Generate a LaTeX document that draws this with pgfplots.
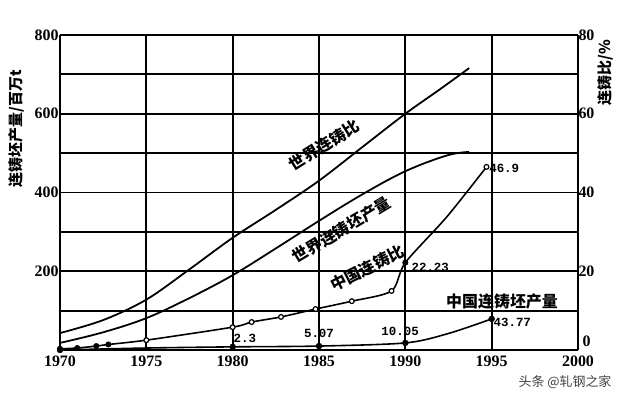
\documentclass[border=0pt]{standalone}
\usepackage{fontspec}
\usepackage{pgfplots}
\pgfplotsset{compat=1.18}
\setmainfont{Liberation Serif}
\newfontfamily\cjk{Noto Sans CJK SC}
\newfontfamily\monofont{Liberation Mono}
\newcommand{\cj}{\cjk\bfseries\fontsize{16}{16}\selectfont}
\newcommand{\lab}{\monofont\bfseries\fontsize{12.5}{12.5}\selectfont}
\begin{document}
\begin{tikzpicture}
\path[use as bounding box] (-60bp,-54bp) rectangle (580bp,350bp);
\begin{axis}[
  at={(0,0)}, anchor=south west, scale only axis,
  width=518bp, height=315bp,
  xmin=1970, xmax=2000, ymin=0, ymax=800,
  axis y line*=left, axis x line*=bottom,
  xtick={1970,1975,...,2000},
  ytick={200,400,600,800},
  minor ytick={100,300,500,700},
  grid=both,
  grid style={black, line width=1.9pt},
  major grid style={black, line width=1.9pt},
  minor grid style={black, line width=1.9pt},
  axis line style={black, line width=2.4pt, -},
  tick style={draw=none},
  /pgf/number format/assume math mode=true,
  xticklabel style={/pgf/number format/1000 sep={}, font=\bfseries\fontsize{16}{16}\selectfont, yshift=-2bp},
  yticklabel style={font=\bfseries\fontsize{16}{16}\selectfont, xshift=2bp},
  clip=false,
]
% World continuous casting output (Mt)
\addplot[black, line width=1.8pt, smooth, tension=0.6] coordinates {
  (1970,18) (1972.5,45) (1975,81) (1977.5,132) (1980,190) (1982.5,258)
  (1985,328) (1987.5,395) (1990,454) (1992.4,494) (1993.7,503)};
% China continuous casting output (Mt)
\addplot[black, line width=1.6pt, smooth, tension=0.5] coordinates {
  (1970,0) (1975,5) (1980,8) (1985,10) (1990,18) (1992.5,42) (1995,79)};
\addplot[black, only marks, mark=*, mark size=3pt] coordinates {
  (1970,0) (1980,8) (1985,10) (1990,18) (1995,79)};
\addplot[black, only marks, mark=*, mark size=1.8pt] coordinates {(1975,5)};
% curve labels
\node[rotate=32] at (axis cs:1985.3,520) {\cj 世界连铸比};
\node[rotate=31] at (axis cs:1986.3,305) {\cj 世界连铸坯产量};
\node[rotate=27] at (axis cs:1987.8,208) {\cj 中国连铸比};
\node at (axis cs:1995.6,122) {\cj 中国连铸坯产量};
% value labels
\node[anchor=west, inner sep=0pt] at (axis cs:1994.85,462) {\lab 46.9};
\node[anchor=west, inner sep=0pt] at (axis cs:1990.35,211) {\lab 22.23};
\node[anchor=west, inner sep=0pt] at (axis cs:1980.05,30) {\lab 2.3};
\node[inner sep=0pt] at (axis cs:1985.0,43) {\lab 5.07};
\node[inner sep=0pt] at (axis cs:1989.7,48) {\lab 10.05};
\node[anchor=west, inner sep=0pt] at (axis cs:1995.1,69) {\lab 43.77};
% left y label
\node[rotate=90, inner sep=0pt] at (axis cs:1967.5,562) {\cjk\bfseries\fontsize{15}{15}\selectfont 连铸坯产量/百万t};
\end{axis}
\begin{axis}[
  at={(0,0)}, anchor=south west, scale only axis,
  width=518bp, height=315bp,
  xmin=1970, xmax=2000, ymin=0, ymax=80,
  axis y line*=right, axis x line=none, xtick=\empty,
  ytick={20,40,60,80},
  axis line style={black, line width=2pt, -},
  tick style={draw=none},
  /pgf/number format/assume math mode=true,
  yticklabel style={font=\bfseries\fontsize{16}{16}\selectfont, xshift=-3bp},
  clip=false,
]
% World continuous casting ratio (%)
\addplot[black, line width=1.8pt, smooth, tension=0.55] coordinates {
  (1970,4.3) (1972.5,7.6) (1975,12.8) (1977.5,20.5) (1980,28.5) (1982.5,35.6)
  (1985,43) (1987.5,51.5) (1990,60) (1992,66.2) (1993.7,71.6)};
% China continuous casting ratio (%)
\addplot[black, line width=1.6pt, smooth, tension=0.45] coordinates {
  (1970,0.3) (1971,0.5) (1972.1,1.0) (1972.8,1.4) (1975,2.5) (1980,5.8)
  (1981.1,7.1) (1982.8,8.4) (1984.8,10.4) (1986.9,12.4) (1989.2,15)
  (1990,22.2) (1992.4,33.8) (1994.7,46.5)};
\addplot[black, only marks, mark=*, mark size=2.8pt] coordinates {
  (1970,0.3) (1971,0.5) (1972.1,1.0) (1972.8,1.4) (1990,22.2)};
\addplot[black, only marks, mark=*, mark size=2.4pt, mark options={fill=white, line width=1.2pt}] coordinates {
  (1975,2.5) (1980,5.8) (1981.1,7.1) (1982.8,8.4) (1984.8,10.4)
  (1986.9,12.4) (1989.2,15) (1994.7,46.5)};
% right y labels
\node[anchor=south west, inner sep=0pt] at (axis cs:2000.25,0.8) {\bfseries\fontsize{16}{16}\selectfont 0};
\node[rotate=90, inner sep=0pt] at (axis cs:2001.6,70.5) {\cjk\bfseries\fontsize{15}{15}\selectfont 连铸比/\%};
\end{axis}
\node[text=black!75, inner sep=0pt] at (505bp,-32bp) {\cjk\fontsize{13}{13}\selectfont 头条 @轧钢之家};
\end{tikzpicture}
\end{document}
